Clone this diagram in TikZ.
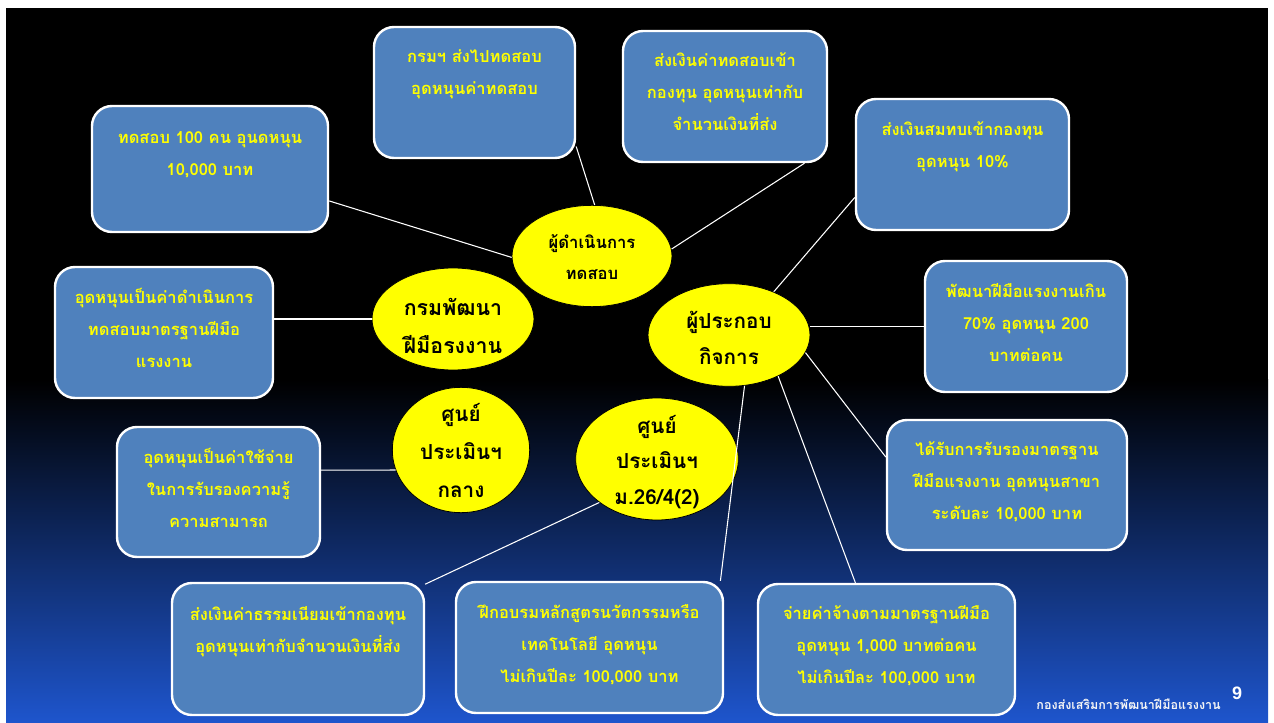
\documentclass[tikz,border=0pt]{standalone}
\usepackage{fontspec}
\newfontfamily\thai[Script=Thai]{Loma}
\newfontfamily\numfont{Liberation Sans}
\usetikzlibrary{shapes.geometric,fit}
\definecolor{boxblue}{HTML}{4F81BD}
\definecolor{slideblue}{RGB}{30,85,205}
\definecolor{ylw}{HTML}{FFFF00}
\newcommand\thaistrut{\rule{0pt}{13pt}}
\begin{document}
\begin{tikzpicture}[x=0.75pt,y=-0.75pt,
  bx/.style={draw=white, line width=1.8pt, fill=boxblue, rounded corners=15pt, inner sep=0pt},
  bt/.style={text=ylw, align=center, inner sep=0pt, anchor=north, font=\fontsize{12.4}{24}\selectfont\thai\bfseries},
  el/.style={ellipse, draw=black, line width=0.6pt, fill=ylw, inner sep=0pt},
  et/.style={align=center, inner sep=0pt, text=black, font=\fontsize{15.5}{28}\selectfont\thai\bfseries},
  ln/.style={draw=white, line width=0.8pt}]
% background
\fill[white] (0,0) rectangle (1274,723);
\fill[black] (6,8) rectangle (1268,723);
\shade[top color=black, bottom color=slideblue] (6,380) rectangle (1268,723);
\useasboundingbox (0,0) rectangle (1274,723);

% boxes
\node[bx, fit={(374,27) (575,158)}] (b1) {};
\node[bx, fit={(623,31) (827,162)}] (b2) {};
\node[bx, fit={(856,99) (1069,230)}] (b3) {};
\node[bx, fit={(92,106) (328,232)}] (b4) {};
\node[bx, fit={(55,267) (273,398)}] (b5) {};
\node[bx, fit={(925,261) (1127,392)}] (b6) {};
\node[bx, fit={(887,420) (1127,550)}] (b7) {};
\node[bx, fit={(117,427) (320,557)}] (b8) {};
\node[bx, fit={(172,583) (424,715)}] (b9) {};
\node[bx, fit={(456,582) (723,713)}] (b10) {};
\node[bx, fit={(758,584) (1015,715)}] (b11) {};

\node[bt] (b1t) at ([yshift=-14.5pt]b1.north) {\thaistrut กรมฯ ส่งไปทดสอบ\\อุดหนุนค่าทดสอบ};
\node[bt] (b2t) at ([yshift=-14.5pt]b2.north) {\thaistrut ส่งเงินค่าทดสอบเข้า\\กองทุน อุดหนุนเท่ากับ\\จำนวนเงินที่ส่ง};
\node[bt] (b3t) at ([yshift=-15pt]b3.north) {\thaistrut ส่งเงินสมทบเข้ากองทุน\\อุดหนุน 10\%};
\node[bt] (b4t) at ([yshift=-16pt]b4.north) {\thaistrut ทดสอบ 100 คน อุนดหนุน\\10,000 บาท};
\node[bt] (b5t) at ([yshift=-15pt]b5.north) {\thaistrut อุดหนุนเป็นค่าดำเนินการ\\ทดสอบมาตรฐานฝีมือ\\แรงงาน};
\node[bt] (b6t) at ([yshift=-15pt]b6.north) {\thaistrut พัฒนาฝีมือแรงงานเกิน\\70\% อุดหนุน 200\\บาทต่อคน};
\node[bt] (b7t) at ([yshift=-14pt]b7.north) {\thaistrut ได้รับการรับรองมาตรฐาน\\ฝีมือแรงงาน อุดหนุนสาขา\\ระดับละ 10,000 บาท};
\node[bt] (b8t) at ([yshift=-15pt]b8.north) {\thaistrut อุดหนุนเป็นค่าใช้จ่าย\\ในการรับรองความรู้\\ความสามารถ};
\node[bt] (b9t) at ([yshift=-16pt]b9.north) {\thaistrut ส่งเงินค่าธรรมเนียมเข้ากองทุน\\อุดหนุนเท่ากับจำนวนเงินที่ส่ง};
\node[bt] (b10t) at ([yshift=-15pt]b10.north) {\thaistrut ฝึกอบรมหลักสูตรนวัตกรรมหรือ\\เทคโนโลยี อุดหนุน\\ไม่เกินปีละ 100,000 บาท};
\node[bt] (b11t) at ([yshift=-14.5pt]b11.north) {\thaistrut จ่ายค่าจ้างตามมาตรฐานฝีมือ\\อุดหนุน 1,000 บาทต่อคน\\ไม่เกินปีละ 100,000 บาท};

% ellipses
\node[el, minimum width=120pt, minimum height=76pt] (e1) at (592,256) {};
\node[el, minimum width=121.5pt, minimum height=76.5pt] (e2) at (453,319) {};
\node[el, minimum width=121.5pt, minimum height=77pt] (e3) at (729,335) {};
\node[el, minimum width=103pt, minimum height=94pt] (e4) at (461,450) {};
\node[el, minimum width=122pt, minimum height=91.5pt] (e5) at (657,459) {};

\node[et, font=\fontsize{12.5}{23.5}\selectfont\thai\bfseries] (e1t) at (592,257) {ผู้ดำเนินการ\\ทดสอบ};
\node[et, font=\fontsize{16}{28.5}\selectfont\thai\bfseries] (e2t) at (453,326) {กรมพัฒนา\\ฝีมือรงงาน};
\node[et, font=\fontsize{15.5}{27}\selectfont\thai\bfseries] (e3t) at (729,338) {ผู้ประกอบ\\กิจการ};
\node[et, font=\fontsize{15.5}{28.5}\selectfont\thai\bfseries] (e4t) at (461,450) {ศูนย์\\ประเมินฯ\\กลาง};
\node[et, font=\fontsize{15.5}{26.5}\selectfont\thai\bfseries] (e5t) at (657,462) {ศูนย์\\ประเมินฯ\\ม.26/4(2)};

% connectors
\draw[ln] (b4.-15) -- (e1.181);
\draw[ln] (b1.-28) -- (e1.87);
\draw[ln] (b2.-40) -- (e1.5);
\draw[ln] (b3.-163) -- (e3.44);
\draw[ln] (b6.west) -- (e3.east |- b6.west);
\draw[ln] (b7.167) -- (e3.-13);
\draw[ln] (b11.115) -- (e3.-40);
\draw[ln] (b10.27) -- (e3.-73);
\draw[ln] (b9.27) -- (e5.-143);
\draw[ln] (b5.east |- e2.west) -- (e2.west);
\draw[ln] (b8.12) -- (e4.-163);

% footer
\node[text=white!92!gray, anchor=east, inner sep=0pt, font=\fontsize{9.4}{11}\selectfont\thai\bfseries] (foot) at (1221,704) {กองส่งเสริมการพัฒนาฝีมือแรงงาน};
\node[text=white, inner sep=0pt, font=\fontsize{13.5}{14}\selectfont\numfont\bfseries] (pg) at (1237,693) {9};
\end{tikzpicture}
\end{document}
